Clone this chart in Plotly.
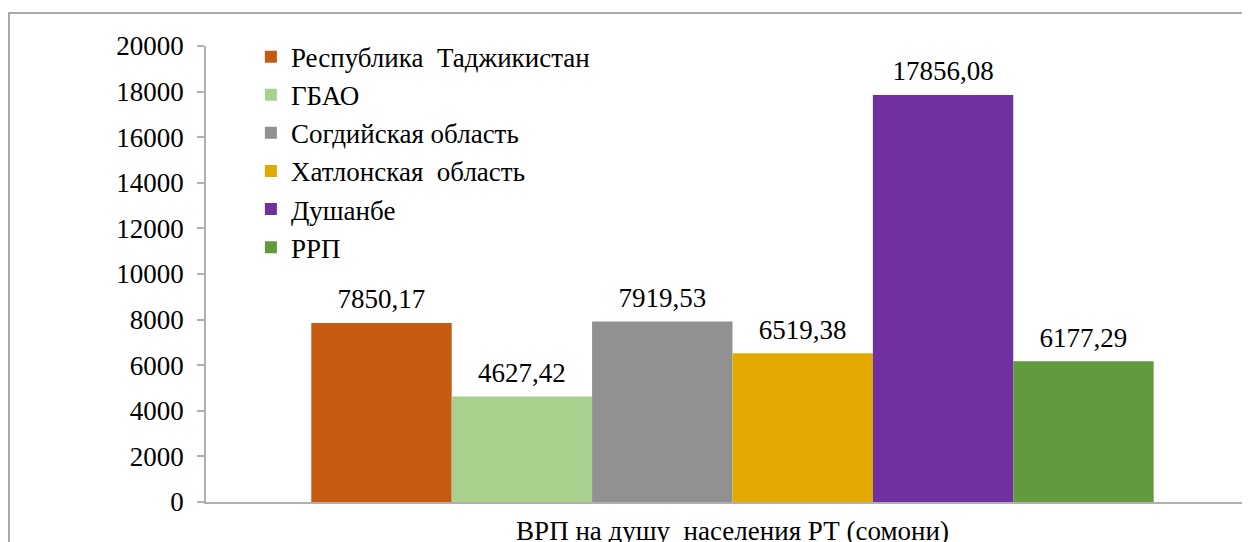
import plotly.graph_objects as go

# --- data ---
category = ["ВРП на душу  населения РТ (сомони)"]
regions = [
    "Республика  Таджикистан",
    "ГБАО",
    "Согдийская область",
    "Хатлонская  область",
    "Душанбе",
    "РРП",
]
values = [7850.17, 4627.42, 7919.53, 6519.38, 17856.08, 6177.29]
colors = ["#C55A11", "#A9D18E", "#919191", "#E2AA00", "#7030A0", "#629B3E"]
y_ticks = [0, 2000, 4000, 6000, 8000, 10000, 12000, 14000, 16000, 18000, 20000]

FONT = "Times New Roman"   # resolves to Liberation Serif metrics here

fig = go.Figure()

# one bar trace per region -> grouped bars inside the single category
for i, (name, val, col) in enumerate(zip(regions, values, colors)):
    fig.add_trace(go.Bar(
        x=category,
        y=[val],
        name=name,
        legendgroup=f"g{i}",
        offsetgroup=f"g{i}",
        marker=dict(color=col, line=dict(width=0)),
    ))

# value labels: grouped scatter points (invisible markers) sitting on the bar tops
for i, val in enumerate(values):
    fig.add_trace(go.Scatter(
        x=category,
        y=[val],
        mode="markers+text",
        marker=dict(size=11, opacity=0),
        texttemplate="%{y:.2f}",
        textposition="top center",
        textfont=dict(family=FONT, size=27, color="#000"),
        offsetgroup=f"g{i}",
        showlegend=False,
        hoverinfo="skip",
        cliponaxis=False,
    ))

# chart border like an Excel chart area (left + top visible)
fig.add_shape(
    type="rect", xref="paper", yref="paper",
    x0=-0.1887, x1=1.05, y0=-0.3, y1=1.0724,
    line=dict(color="#8c8c8c", width=1.5),
    layer="below",
)

# page body has an 8px margin, so the figure is 8px smaller than the window
fig.update_layout(
    width=1242,
    height=534,
    margin=dict(l=198, r=0, t=38, b=40),
    paper_bgcolor="white",
    plot_bgcolor="white",
    separators=", ",
    barmode="group",
    bargap=0.2,
    bargroupgap=0,
    scattermode="group",
    scattergap=0.2,
    font=dict(family=FONT, size=27, color="#000"),
    showlegend=True,
    legend=dict(
        x=0.043, y=1.0294, xanchor="left", yanchor="top",
        bgcolor="rgba(0,0,0,0)",
        font=dict(family=FONT, size=27, color="#000"),
        traceorder="grouped",
        tracegroupgap=0,
    ),
    xaxis=dict(
        type="category",
        range=[-0.5, 0.4915],
        showline=True, linecolor="#b0b0b0", linewidth=1.5,
        ticks="", showgrid=False,
        automargin=False,
        ticklabelstandoff=4,
        tickfont=dict(family=FONT, size=27, color="#000"),
    ),
    yaxis=dict(
        range=[0, 20000],
        tickvals=y_ticks,
        tickformat="d",
        showline=True, linecolor="#b0b0b0", linewidth=1.5,
        ticks="outside", ticklen=7, tickcolor="#b0b0b0", tickwidth=1.5,
        ticklabelstandoff=8,
        automargin=False,
        showgrid=False, zeroline=False,
        tickfont=dict(family=FONT, size=27, color="#000"),
    ),
)

fig.write_html("out.html")
